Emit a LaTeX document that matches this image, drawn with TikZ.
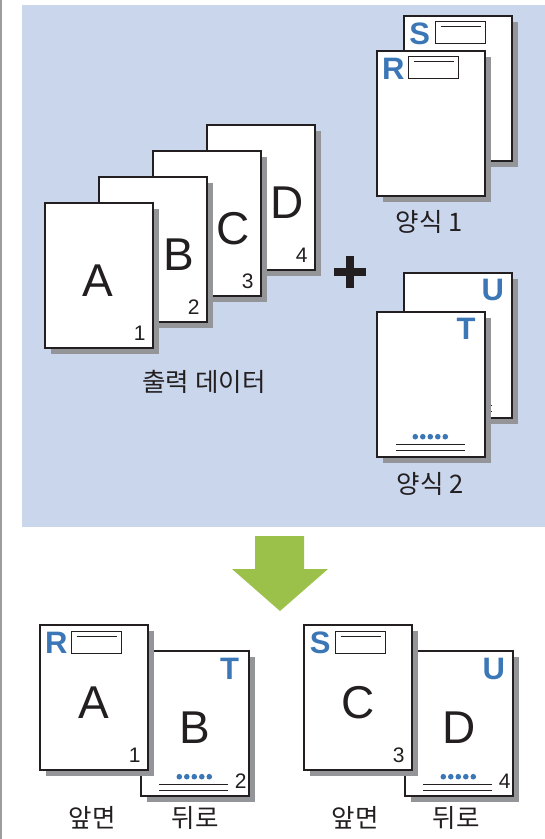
\documentclass[tikz,border=0pt]{standalone}
\usepackage{fontspec}
\setmainfont{Liberation Sans}
\newfontfamily\kofont{Noto Sans CJK KR}
\usetikzlibrary{shadows}
\definecolor{pnblue}{HTML}{C9D6EC}
\definecolor{fmblue}{HTML}{3B77B6}
\definecolor{shgray}{HTML}{939598}
\definecolor{inkblack}{HTML}{231F20}
\definecolor{arrgreen}{HTML}{9BC14B}
\definecolor{edgegray}{HTML}{9D9D9D}

\begin{document}
\begin{tikzpicture}[x=1pt, y=-1pt,
    page/.style={rectangle, draw=inkblack, line width=1.4pt, fill=white, minimum width=108pt, minimum height=145pt, inner sep=0pt,
      drop shadow={shadow xshift=5.5pt, shadow yshift=-5.5pt, fill=shgray, opacity=1}},
    bigchar/.style={font=\fontsize{46}{46}\selectfont, text=inkblack, inner sep=0pt},
    pageno/.style={font=\fontsize{21}{21}\selectfont, text=inkblack, inner sep=0pt, anchor=south east},
    formchar/.style={font=\fontsize{31}{31}\selectfont\bfseries, text=fmblue, inner sep=0pt},
    fieldbox/.style={rectangle, draw=inkblack, line width=1.4pt, minimum width=50pt, minimum height=22pt, inner sep=0pt},
    caption/.style={font=\kofont\fontsize{25.5}{25.5}\selectfont, text=inkblack, inner sep=0pt}]
  \useasboundingbox (0,0) rectangle (545,839);
  \draw[edgegray, line width=1.5pt] (0.75,0) -- (0.75,839);
  \fill[pnblue] (22,5) rectangle (545,527);

  % output data, back to front
  \node[page] (outD) at (261,197.5) {};
  \node[bigchar] (chD) at (287,203) {D};
  \node[pageno] (noD) at ([xshift=-8pt,yshift=8pt]outD.south east) {4};
  \node[page] (outC) at (207,223.5) {};
  \node[bigchar] (chC) at (233,229) {C};
  \node[pageno] (noC) at ([xshift=-8pt,yshift=8pt]outC.south east) {3};
  \node[page] (outB) at (153,249.5) {};
  \node[bigchar] (chB) at (179,255) {B};
  \node[pageno] (noB) at ([xshift=-8pt,yshift=8pt]outB.south east) {2};
  \node[page] (outA) at (99,275.5) {};
  \node[bigchar] (chA) at (98,281) {A};
  \node[pageno] (noA) at ([xshift=-8pt,yshift=8pt]outA.south east) {1};
  \node[caption] (capout) at (204,382) {출력 데이터};

  % plus
  \draw[inkblack, line width=7.5pt] (334,272) -- (366,272) (350,256) -- (350,288);

  % form 1
  \node[page] (formS) at (458,88.5) {};
  \node[formchar] (chS) at ([xshift=16.5pt,yshift=-18.5pt]formS.north west) {S};
  \node[fieldbox] (boxS) at ([xshift=57pt,yshift=-17pt]formS.north west) {};
  \draw[inkblack, line width=1.3pt] ([xshift=6pt,yshift=-6pt]boxS.north west) -- ([xshift=-5pt,yshift=-6pt]boxS.north east);
  \node[page] (formR) at (431,123.5) {};
  \node[formchar] (chR) at ([xshift=17pt,yshift=-18.5pt]formR.north west) {R};
  \node[fieldbox] (boxR) at ([xshift=57pt,yshift=-17pt]formR.north west) {};
  \draw[inkblack, line width=1.3pt] ([xshift=6pt,yshift=-6pt]boxR.north west) -- ([xshift=-5pt,yshift=-6pt]boxR.north east);
  \node[caption] (capform1) at (429,222) {양식 1};

  % form 2
  \node[page] (formU) at (458,345.5) {};
  \node[formchar] (chU) at ([xshift=-20pt,yshift=-18pt]formU.north east) {U};
  \foreach \i in {0,...,4}
    \fill[fmblue] ([xshift={(39+7.5*\i)*1pt},yshift=21pt]formU.south west) circle (2.8pt);
  \draw[inkblack, line width=1.2pt] ([xshift=20pt,yshift=13pt]formU.south west) -- ([xshift=89pt,yshift=13pt]formU.south west)
    ([xshift=20pt,yshift=7pt]formU.south west) -- ([xshift=89pt,yshift=7pt]formU.south west);
  \node[page] (formT) at (431,384.5) {};
  \node[formchar] (chT) at ([xshift=-19.5pt,yshift=-17.5pt]formT.north east) {T};
  \foreach \i in {0,...,4}
    \fill[fmblue] ([xshift={(39+7.5*\i)*1pt},yshift=21pt]formT.south west) circle (2.8pt);
  \draw[inkblack, line width=1.2pt] ([xshift=20pt,yshift=13pt]formT.south west) -- ([xshift=89pt,yshift=13pt]formT.south west)
    ([xshift=20pt,yshift=7pt]formT.south west) -- ([xshift=89pt,yshift=7pt]formT.south west);
  \node[caption] (capform2) at (430,484) {양식 2};

  % big arrow
  \fill[arrgreen] (255,536) -- (304,536) -- (304,569) -- (328,569) -- (280,611) -- (232,569) -- (255,569) -- cycle;

  % result, first sheet
  \node[page] (resB) at (195,723.5) {};
  \node[formchar] (chT2) at ([xshift=-20pt,yshift=-18.5pt]resB.north east) {T};
  \node[bigchar] (chB2) at (195,728) {B};
  \foreach \i in {0,...,4}
    \fill[fmblue] ([xshift={(39+7.5*\i)*1pt},yshift=20pt]resB.south west) circle (2.8pt);
  \draw[inkblack, line width=1.2pt] ([xshift=19pt,yshift=12pt]resB.south west) -- ([xshift=88pt,yshift=12pt]resB.south west)
    ([xshift=19pt,yshift=6pt]resB.south west) -- ([xshift=88pt,yshift=6pt]resB.south west);
  \node[pageno] (noB2) at ([xshift=-3pt,yshift=8pt]resB.south east) {2};
  \node[page] (resA) at (94,697.5) {};
  \node[formchar] (chR2) at ([xshift=17pt,yshift=-19pt]resA.north west) {R};
  \node[fieldbox] (boxR2) at ([xshift=57pt,yshift=-18pt]resA.north west) {};
  \draw[inkblack, line width=1.3pt] ([xshift=6pt,yshift=-6pt]boxR2.north west) -- ([xshift=-5pt,yshift=-6pt]boxR2.north east);
  \node[bigchar] (chA2) at (94,703) {A};
  \node[pageno] (noA2) at ([xshift=-8pt,yshift=8pt]resA.south east) {1};
  \node[caption] (capfrontA) at (92,818) {앞면};
  \node[caption] (capbackB) at (195,818) {뒤로};

  % result, second sheet
  \node[page] (resD) at (459,723.5) {};
  \node[formchar] (chU2) at ([xshift=-20pt,yshift=-18.5pt]resD.north east) {U};
  \node[bigchar] (chD2) at (459,728) {D};
  \foreach \i in {0,...,4}
    \fill[fmblue] ([xshift={(39+7.5*\i)*1pt},yshift=20pt]resD.south west) circle (2.8pt);
  \draw[inkblack, line width=1.2pt] ([xshift=19pt,yshift=12pt]resD.south west) -- ([xshift=88pt,yshift=12pt]resD.south west)
    ([xshift=19pt,yshift=6pt]resD.south west) -- ([xshift=88pt,yshift=6pt]resD.south west);
  \node[pageno] (noD2) at ([xshift=-3pt,yshift=8pt]resD.south east) {4};
  \node[page] (resC) at (358,697.5) {};
  \node[formchar] (chS2) at ([xshift=17pt,yshift=-19pt]resC.north west) {S};
  \node[fieldbox] (boxS2) at ([xshift=57pt,yshift=-18pt]resC.north west) {};
  \draw[inkblack, line width=1.3pt] ([xshift=6pt,yshift=-6pt]boxS2.north west) -- ([xshift=-5pt,yshift=-6pt]boxS2.north east);
  \node[bigchar] (chC2) at (358,703) {C};
  \node[pageno] (noC2) at ([xshift=-8pt,yshift=8pt]resC.south east) {3};
  \node[caption] (capfrontC) at (355,818) {앞면};
  \node[caption] (capbackD) at (456,818) {뒤로};
\end{tikzpicture}
\end{document}
